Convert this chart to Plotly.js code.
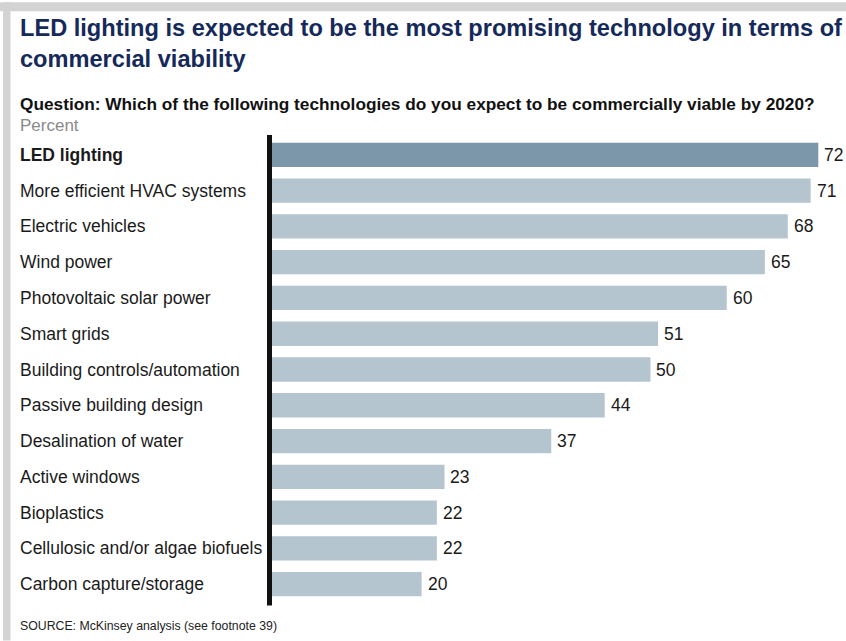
<!DOCTYPE html>
<html>
<head>
<meta charset="utf-8">
<script src="https://cdn.plot.ly/plotly-3.0.1.min.js"></script>
<style>
  html, body { margin: 0; padding: 0; background: #ffffff; }
  #chart { width: 846px; height: 641px; }
</style>
</head>
<body>
<div id="chart"></div>
<script>
const categories = [
  "LED lighting",
  "More efficient HVAC systems",
  "Electric vehicles",
  "Wind power",
  "Photovoltaic solar power",
  "Smart grids",
  "Building controls/automation",
  "Passive building design",
  "Desalination of water",
  "Active windows",
  "Bioplastics",
  "Cellulosic and/or algae biofuels",
  "Carbon capture/storage"
];
const values = [72, 71, 68, 65, 60, 51, 50, 44, 37, 23, 22, 22, 20];
const highlighted = "LED lighting";

const titleText = "<b>LED lighting is expected to be the most promising technology in terms of<br>commercial viability</b>";
const questionText = "<b>Question: Which of the following technologies do you expect to be commercially viable by 2020?</b>";
const unitText = "Percent";
const sourceText = "SOURCE: McKinsey analysis (see footnote 39)";

// layout geometry (pixels)
const W = 846, H = 641;
const L = 269, R = 1, T = 137, B = 38.5;
const pw = W - L - R, ph = H - T - B;
const px = x => (x - L) / pw;         // pixel x -> paper x
const py = y => (H - B - y) / ph;     // pixel y -> paper y

const FONT = "Liberation Sans, Arial, sans-serif";
const darkColor = "#7b97a9";
const lightColor = "#b4c5cf";

const trace = {
  type: "bar",
  orientation: "h",
  y: categories,
  x: values,
  cliponaxis: false,
  marker: { color: categories.map(c => c === highlighted ? darkColor : lightColor), line: { width: 0 } },
  hoverinfo: "none"
};

const labelAnnotations = categories.map(c => ({
  xref: "paper", yref: "y",
  x: px(18), y: c,
  xanchor: "left", yanchor: "middle",
  text: c === highlighted ? "<b>" + c + "</b>" : c,
  showarrow: false,
  font: { family: FONT, size: 17.5, color: "#1a1a1a" }
}));

const valueAnnotations = categories.map((c, i) => ({
  xref: "x", yref: "y",
  x: values[i], y: c,
  xanchor: "left", yanchor: "middle",
  xshift: 4,
  text: String(values[i]),
  showarrow: false,
  font: { family: FONT, size: 17.5, color: "#1a1a1a" }
}));

const layout = {
  width: W, height: H,
  margin: { l: L, r: R, t: T, b: B, pad: 0 },
  paper_bgcolor: "#ffffff",
  plot_bgcolor: "#ffffff",
  showlegend: false,
  bargap: 0.32,
  xaxis: {
    range: [0, 75.5],
    showgrid: false, zeroline: false, showline: false,
    showticklabels: false, ticks: ""
  },
  yaxis: {
    autorange: "reversed",
    showgrid: false, zeroline: false, showline: false,
    showticklabels: false, ticks: ""
  },
  shapes: [
    // frame
    { type: "rect", xref: "paper", yref: "paper", x0: px(0), x1: px(846), y0: py(11), y1: py(2),
      fillcolor: "#d3d3d3", line: { width: 0 }, layer: "below" },
    { type: "rect", xref: "paper", yref: "paper", x0: px(3), x1: px(10.5), y0: py(641), y1: py(2),
      fillcolor: "#d3d3d3", line: { width: 0 }, layer: "below" },
    // vertical axis line
    { type: "line", xref: "paper", yref: "paper", x0: px(269.5), x1: px(269.5), y0: py(606), y1: py(135),
      line: { color: "#111111", width: 5 }, layer: "above" }
  ],
  annotations: labelAnnotations.concat(valueAnnotations, [
    { xref: "paper", yref: "paper", x: px(18), y: py(43), xanchor: "left", yanchor: "middle",
      text: titleText, showarrow: false, align: "left",
      font: { family: FONT, size: 23.6, color: "#15295a" } },
    { xref: "paper", yref: "paper", x: px(18), y: py(104), xanchor: "left", yanchor: "middle",
      text: questionText, showarrow: false,
      font: { family: FONT, size: 17.25, color: "#111111" } },
    { xref: "paper", yref: "paper", x: px(18), y: py(125), xanchor: "left", yanchor: "middle",
      text: unitText, showarrow: false,
      font: { family: FONT, size: 17, color: "#8a8a8a" } },
    { xref: "paper", yref: "paper", x: px(18), y: py(627), xanchor: "left", yanchor: "middle",
      text: sourceText, showarrow: false,
      font: { family: FONT, size: 12.3, color: "#222222" } }
  ])
};

Plotly.newPlot("chart", [trace], layout, { displayModeBar: false, staticPlot: true });
</script>
</body>
</html>
